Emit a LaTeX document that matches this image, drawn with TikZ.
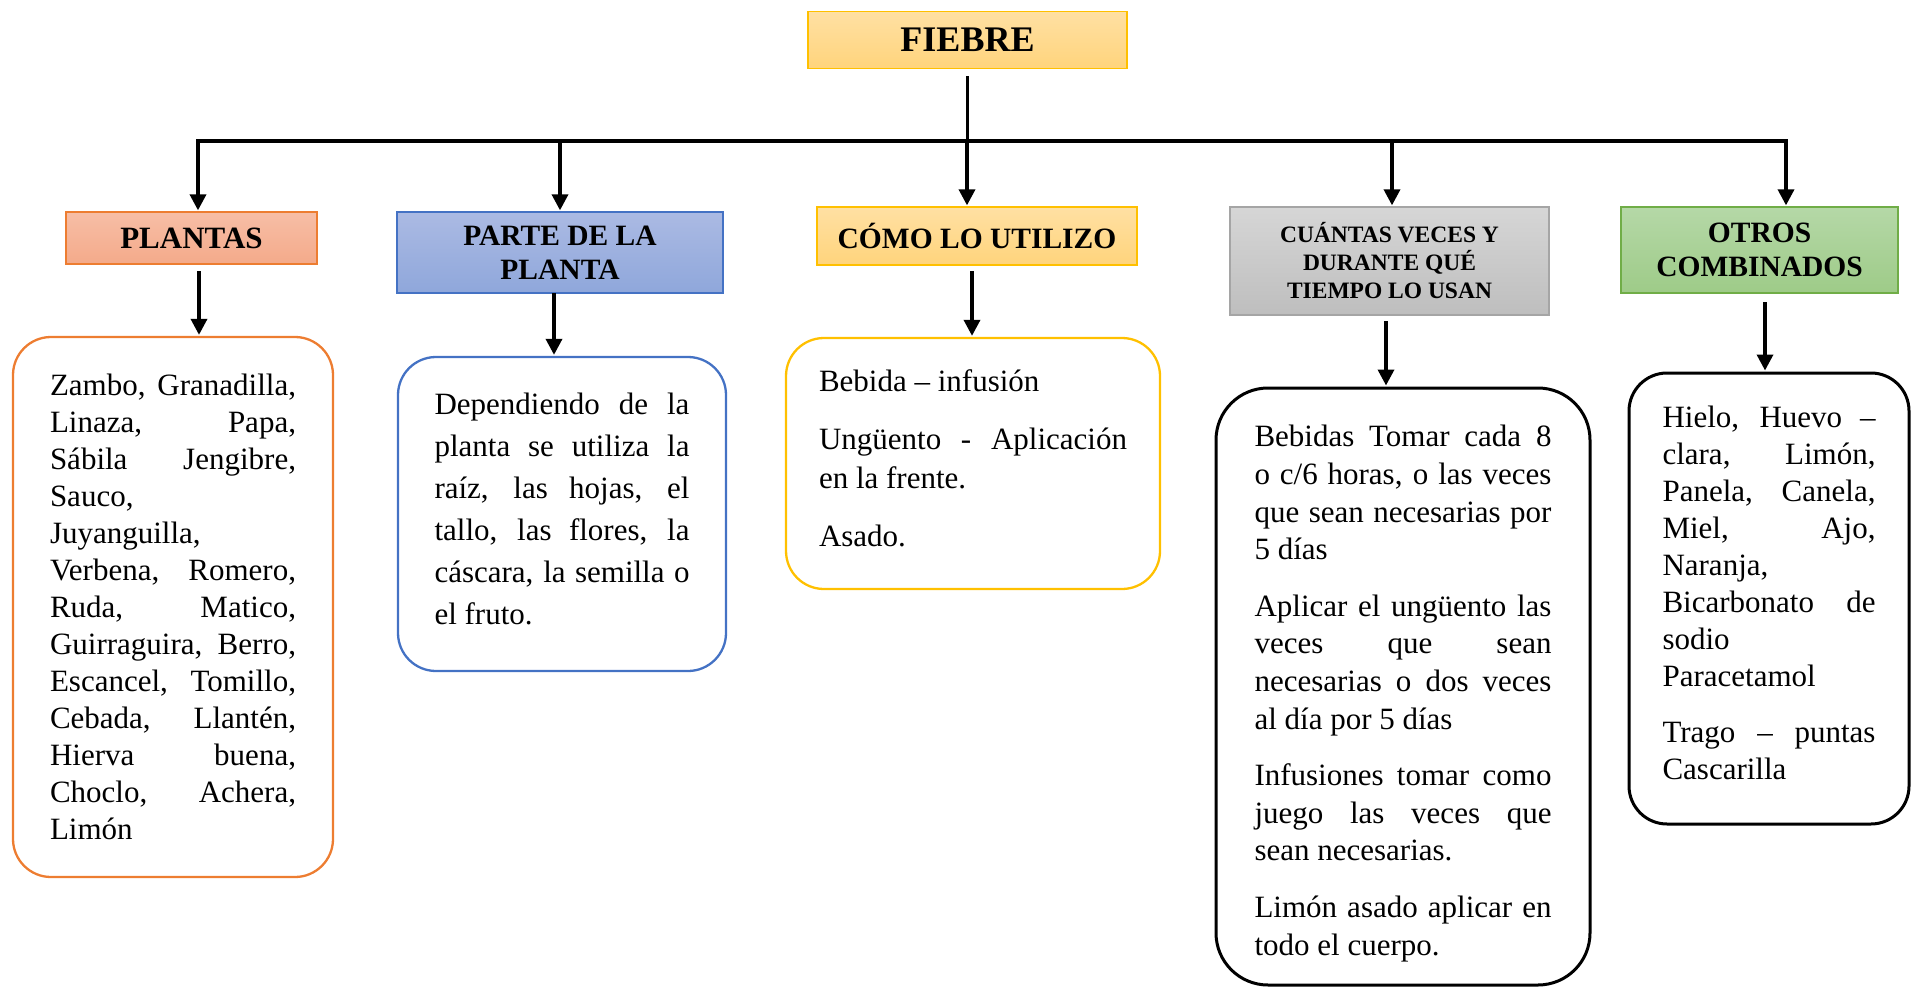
\documentclass[tikz,border=0pt]{standalone}
\usepackage{fontspec}
\setmainfont{Liberation Serif}
\usepackage{tikz}
\usetikzlibrary{arrows.meta}

\begin{document}
\begin{tikzpicture}[x=1pt,y=-1pt,
    head/.style={draw,line width=1.3pt,align=center,inner sep=0pt},
    leaf/.style={draw,line width=2.3pt,rounded corners=38pt,align=justify,inner sep=0pt,
      execute at begin node={\tolerance=10000\pretolerance=10000\hyphenpenalty=10000\setlength{\parskip}{19pt}}},
    link/.style={line width=3.5pt},
    arr/.style={link,shorten >=1pt,-{Triangle[length=16pt,width=16pt]}}
  ]
  \definecolor{goldline}{HTML}{FFC000}
  \definecolor{orangeline}{HTML}{ED7D31}
  \definecolor{blueline}{HTML}{4472C4}
  \definecolor{greyline}{HTML}{A5A5A5}
  \definecolor{greenline}{HTML}{70AD47}
  \useasboundingbox (0,0) rectangle (1913,987);
  % titulo
  \node[head,draw=goldline,top color={rgb,255:red,255;green,224;blue,163},bottom color={rgb,255:red,255;green,212;blue,124},
    minimum width=319pt,minimum height=57pt,font=\bfseries\fontsize{36}{40}\selectfont] (fiebre) at (967.5,40) {FIEBRE};
  % cabeceras
  \node[head,draw=orangeline,top color={rgb,255:red,247;green,190;blue,166},bottom color={rgb,255:red,244;green,170;blue,138},
    minimum width=251pt,minimum height=52pt,font=\bfseries\fontsize{31}{34}\selectfont] (plantas) at (191.5,238) {PLANTAS};
  \node[head,draw=blueline,top color={rgb,255:red,171;green,186;blue,227},bottom color={rgb,255:red,143;green,167;blue,219},
    minimum width=326pt,minimum height=81pt,font=\bfseries\fontsize{29.5}{34}\selectfont] (parte) at (560,252.5) {PARTE DE LA\\PLANTA};
  \node[head,draw=goldline,top color={rgb,255:red,255;green,224;blue,163},bottom color={rgb,255:red,255;green,212;blue,124},
    minimum width=320pt,minimum height=58pt,font=\bfseries\fontsize{29.5}{34}\selectfont] (como) at (977,236) {CÓMO LO UTILIZO};
  \node[head,draw=greyline,top color={rgb,255:red,214;green,214;blue,214},bottom color={rgb,255:red,190;green,190;blue,190},
    minimum width=319pt,minimum height=108pt,font=\bfseries\fontsize{23.5}{28}\selectfont] (cuantas) at (1389.5,261) {CUÁNTAS VECES Y\\DURANTE QUÉ\\TIEMPO LO USAN};
  \node[head,draw=greenline,top color={rgb,255:red,181;green,216;blue,167},bottom color={rgb,255:red,158;green,203;blue,136},
    minimum width=277pt,minimum height=86pt,font=\bfseries\fontsize{29.5}{34}\selectfont] (otros) at (1759.5,250) {OTROS\\COMBINADOS};
  % cajas de texto
  \node[leaf,draw=orangeline,minimum width=320pt,minimum height=540pt,text width=246pt,
    font=\fontsize{31}{37}\selectfont] (plantas-txt) at (173,607)
    {Zambo, Granadilla,\linebreak Linaza, Papa,\linebreak Sábila Jengibre,\linebreak Sauco,\linebreak Juyanguilla,\linebreak
     Verbena, Romero,\linebreak Ruda, Matico,\linebreak Guirraguira, Berro,\linebreak Escancel, Tomillo,\linebreak
     Cebada, Llantén,\linebreak Hierva buena,\linebreak Choclo, Achera,\linebreak Limón};
  \node[leaf,draw=blueline,minimum width=328pt,minimum height=314pt,text width=255pt,
    font=\fontsize{31}{42}\selectfont] (parte-txt) at (562,514)
    {Dependiendo de la\linebreak planta se utiliza la\linebreak raíz, las hojas, el\linebreak tallo, las flores, la\linebreak
     cáscara, la semilla o\linebreak el fruto.\par\kern10pt};
  \node[leaf,draw=goldline,minimum width=374pt,minimum height=251pt,text width=308pt,
    font=\fontsize{31}{39}\selectfont] (como-txt) at (973,463.5)
    {Bebida – infusión\par Ungüento - Aplicación\linebreak en la frente.\par Asado.\par\kern10pt};
  \node[leaf,draw=black,line width=3pt,rounded corners=52pt,minimum width=374pt,minimum height=597pt,text width=297pt,
    font=\fontsize{31}{37.6}\selectfont] (cuantas-txt) at (1403,686.5)
    {Bebidas Tomar cada 8\linebreak o c/6 horas, o las veces\linebreak que sean necesarias por\linebreak 5 días\par
     Aplicar el ungüento las\linebreak veces que sean\linebreak necesarias o dos veces\linebreak al día por 5 días\par
     Infusiones tomar como\linebreak juego las veces que\linebreak sean necesarias.\par
     Limón asado aplicar en\linebreak todo el cuerpo.\par\kern-14pt};
  \node[leaf,draw=black,line width=3pt,minimum width=280pt,minimum height=451pt,text width=213pt,
    font=\fontsize{31}{37}\selectfont] (otros-txt) at (1769,598.5)
    {Hielo, Huevo –\linebreak clara, Limón,\linebreak Panela, Canela,\linebreak Miel, Ajo,\linebreak Naranja,\linebreak
     Bicarbonato de\linebreak sodio\linebreak Paracetamol\par Trago – puntas\linebreak Cascarilla\par\kern12pt};
  % conectores
  \coordinate (busL) at (198,141);
  \coordinate (busR) at (1786,141);
  \draw[link,line cap=rect] (busL) -- (busR);
  \draw[link] ([yshift=-7pt]fiebre.south) -- (fiebre.south |- busL);
  \foreach \n/\x in {plantas/198,parte/560,como/967,cuantas/1392,otros/1786}{
    \coordinate (b-\n) at (\x,141);
    \draw[arr] (b-\n) -- (b-\n |- \n.north);
  }
  \foreach \n/\x/\y in {plantas/199/271,parte/554/293,como/972/271,cuantas/1386/321,otros/1765/302}{
    \coordinate (s-\n) at (\x,\y);
    \draw[arr] (s-\n) -- (s-\n |- \n-txt.north);
  }
\end{tikzpicture}
\end{document}
